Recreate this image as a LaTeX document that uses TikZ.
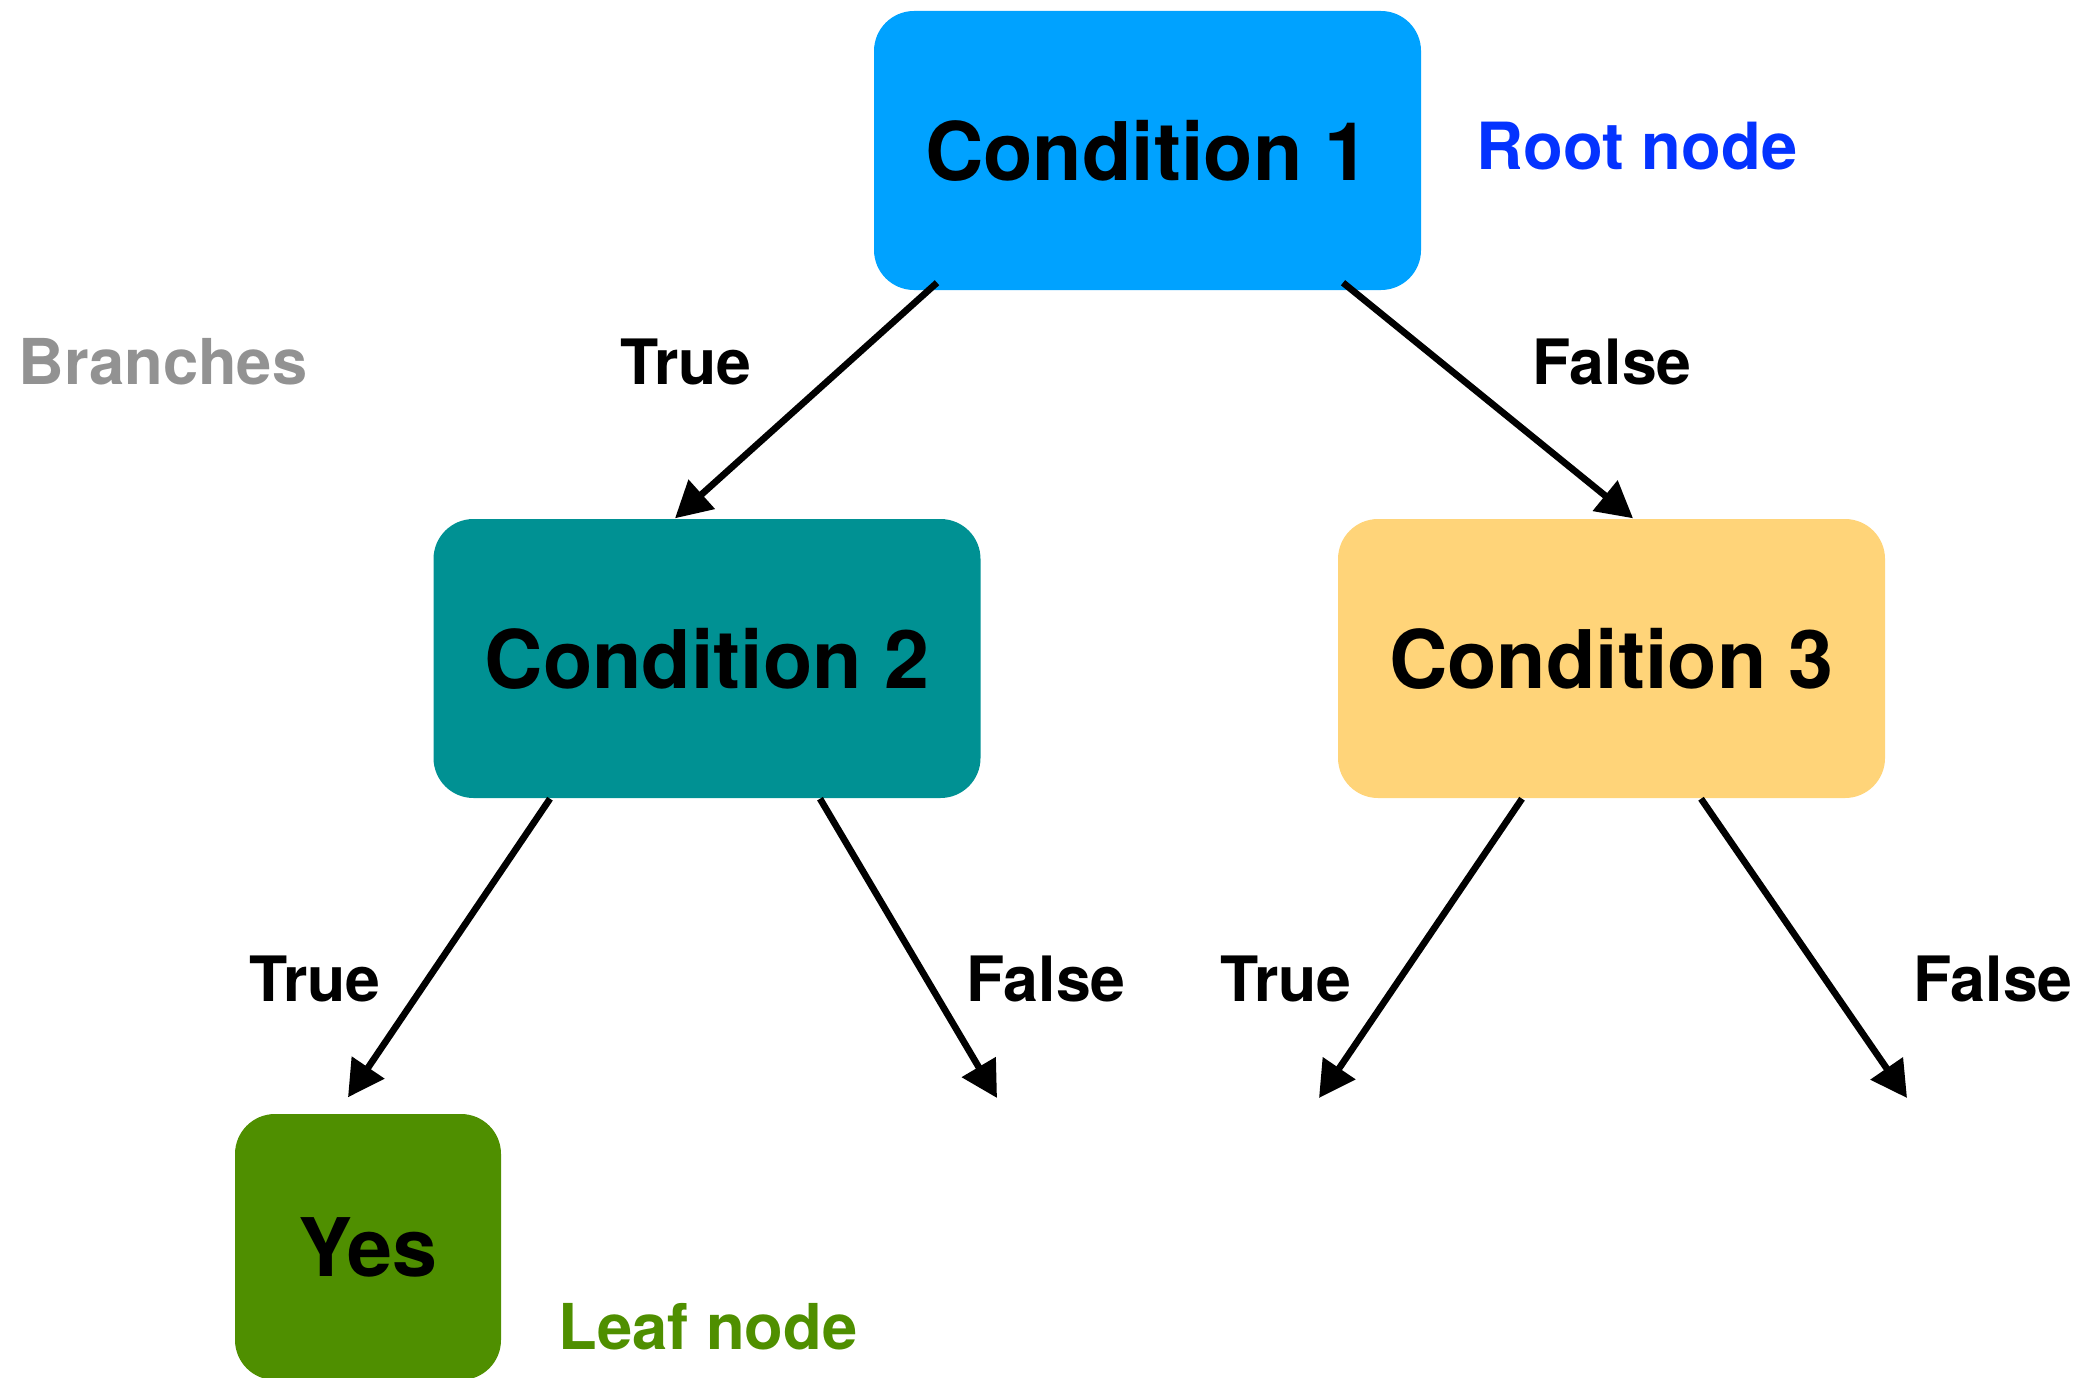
\documentclass[tikz,border=0pt]{standalone}
\usepackage{fontspec}
\setmainfont{TeX Gyre Heros}
\usepackage{xcolor}
\usepackage{tikz}
\usetikzlibrary{arrows.meta, positioning}
\definecolor{rootblue}{RGB}{0, 162, 255}
\definecolor{roottext}{RGB}{4, 51, 255}
\definecolor{condteal}{RGB}{0, 145, 147}
\definecolor{condsand}{RGB}{255, 212, 121}
\definecolor{leafgreen}{RGB}{79, 143, 0}
\definecolor{branchgray}{RGB}{146, 146, 146}

\begin{document}
\begin{tikzpicture}[>={Triangle[length=0.36cm, width=0.38cm]},
    every node/.style={font=\bfseries},
    condbox/.style={rounded corners=0.4cm, minimum width=5.47cm, minimum height=2.79cm, inner sep=0pt, font=\fontsize{23}{27}\selectfont\bfseries},
    edgelabel/.style={font=\fontsize{17.8}{21}\selectfont\bfseries},
    branch/.style={->, line width=1.9pt}]
        \useasboundingbox (0,0) rectangle (20.85,-13.77);

        \node[condbox, fill=rootblue] (c1) at (11.475,-1.505) {Condition 1};
        \node[condbox, fill=condteal] (c2) at (7.07,-6.585) {Condition 2};
        \node[condbox, fill=condsand] (c3) at (16.115,-6.585) {Condition 3};
        \node[condbox, fill=leafgreen, minimum width=2.66cm, minimum height=2.66cm] (yes) at (3.68,-12.47) {Yes};

        \node[font=\fontsize{18.5}{22}\selectfont\bfseries, text=roottext] (rootlbl) at (16.37,-1.46) {Root node};
        \node[font=\fontsize{18}{22}\selectfont\bfseries, text=branchgray] (branchlbl) at (1.63,-3.62) {Branches};
        \node[font=\fontsize{18}{22}\selectfont\bfseries, text=leafgreen] (leaflbl) at (7.08,-13.27) {Leaf node};

        \coordinate (c2false) at (9.97,-10.98);
        \coordinate (c3true) at (13.19,-10.98);
        \coordinate (c3false) at (19.07,-10.98);

        \draw[branch] ([xshift=-2.105cm, yshift=0.08cm]c1.south) -- ([xshift=-0.32cm]c2.north);
        \draw[branch] ([xshift=1.955cm, yshift=0.08cm]c1.south) -- ([xshift=0.215cm]c3.north);
        \draw[branch] ([xshift=-1.57cm]c2.south) -- ([xshift=-0.2cm, yshift=0.16cm]yes.north);
        \draw[branch] ([xshift=1.13cm]c2.south) -- (c2false);
        \draw[branch] ([xshift=-0.895cm]c3.south) -- (c3true);
        \draw[branch] ([xshift=0.895cm]c3.south) -- (c3false);

        \node[edgelabel] (t1) at (6.86,-3.62) {True};
        \node[edgelabel] (f1) at (16.12,-3.62) {False};
        \node[edgelabel] (t2) at (3.15,-9.79) {True};
        \node[edgelabel] (f2) at (10.46,-9.79) {False};
        \node[edgelabel] (t3) at (12.86,-9.79) {True};
        \node[edgelabel] (f3) at (19.93,-9.79) {False};
    \end{tikzpicture}
\end{document}
